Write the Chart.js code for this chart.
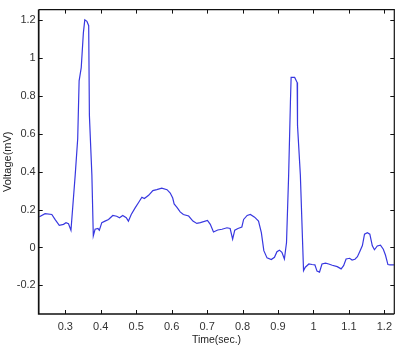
<!DOCTYPE html>
<html><head><meta charset="utf-8">
<script src="https://cdn.jsdelivr.net/npm/chart.js@4/dist/chart.umd.min.js"></script>
<style>html,body{margin:0;padding:0;background:#fff}#wrap{width:399px;height:348px}</style>
</head><body><div id="wrap"><canvas id="c" width="399" height="348"></canvas></div>
<script>
const times = [0.227,0.243,0.262,0.271,0.283,0.295,0.302,0.309,0.316,0.328,0.335,0.339,0.345,0.351,0.355,0.361,0.366,0.368,0.375,0.379,0.384,0.392,0.396,0.403,0.412,0.422,0.434,0.445,0.453,0.462,0.472,0.478,0.486,0.497,0.509,0.516,0.523,0.535,0.547,0.558,0.572,0.587,0.596,0.603,0.607,0.615,0.624,0.633,0.648,0.660,0.671,0.681,0.701,0.709,0.718,0.730,0.742,0.756,0.765,0.772,0.778,0.787,0.798,0.803,0.813,0.822,0.834,0.845,0.853,0.860,0.869,0.881,0.890,0.897,0.904,0.911,0.918,0.924,0.930,0.935,0.937,0.947,0.954,0.955,0.963,0.972,0.977,0.987,0.996,1.004,1.010,1.017,1.024,1.034,1.043,1.053,1.067,1.078,1.085,1.092,1.102,1.109,1.117,1.124,1.131,1.138,1.144,1.152,1.159,1.166,1.172,1.180,1.189,1.197,1.203,1.210,1.216,1.227];
const voltages = [0.162,0.178,0.174,0.148,0.117,0.122,0.131,0.125,0.091,0.383,0.574,0.879,0.949,1.132,1.201,1.193,1.170,0.697,0.383,0.061,0.096,0.100,0.091,0.131,0.139,0.148,0.169,0.165,0.157,0.169,0.157,0.139,0.174,0.209,0.244,0.265,0.258,0.275,0.300,0.305,0.313,0.305,0.287,0.261,0.230,0.212,0.188,0.174,0.166,0.139,0.127,0.131,0.143,0.122,0.082,0.092,0.096,0.104,0.100,0.044,0.091,0.100,0.108,0.148,0.169,0.174,0.160,0.139,0.078,-0.017,-0.055,-0.064,-0.052,-0.022,-0.014,-0.026,-0.061,0.026,0.383,0.766,0.897,0.897,0.870,0.644,0.383,-0.122,-0.104,-0.087,-0.090,-0.092,-0.125,-0.130,-0.087,-0.083,-0.087,-0.094,-0.101,-0.113,-0.096,-0.061,-0.057,-0.066,-0.062,-0.049,-0.020,0.010,0.070,0.078,0.070,0.009,-0.012,0.008,0.012,-0.009,-0.040,-0.090,-0.092,-0.092];
const xTicks = [0.3,0.4,0.5,0.6,0.7,0.8,0.9,1.0,1.1,1.2];
const yTicks = [-0.2,0,0.2,0.4,0.6,0.8,1.0,1.2];
const xRange = [0.225, 1.228];
const yRange = [-0.351, 1.255];

const points = times.map((t,i)=>({x:t,y:voltages[i]}));

const framePlugin = {
  id:'frame',
  afterDatasetsDraw(chart){
    const {ctx, chartArea:a, scales:{x,y}} = chart;
    ctx.save();
    ctx.strokeStyle='#111';
    ctx.lineWidth=1;
    const tl=4;
    ctx.beginPath();
    xTicks.forEach(v=>{
      const px=Math.round(x.getPixelForValue(v))+0.5;
      ctx.moveTo(px,a.bottom); ctx.lineTo(px,a.bottom-tl);
      ctx.moveTo(px,a.top); ctx.lineTo(px,a.top+tl);
    });
    yTicks.forEach(v=>{
      const py=Math.round(y.getPixelForValue(v))+0.5;
      ctx.moveTo(a.left,py); ctx.lineTo(a.left+tl,py);
      ctx.moveTo(a.right,py); ctx.lineTo(a.right-tl,py);
    });
    ctx.stroke();
    ctx.lineWidth=1.2;
    ctx.beginPath();
    ctx.moveTo(a.left,a.top); ctx.lineTo(a.right,a.top); ctx.lineTo(a.right,a.bottom);
    ctx.stroke();
    ctx.lineWidth=1.7;
    ctx.beginPath();
    ctx.moveTo(a.left,a.top); ctx.lineTo(a.left,a.bottom); ctx.lineTo(a.right,a.bottom);
    ctx.stroke();
    ctx.restore();
  }
};

const fmt = v => { const r=Math.round(v*10)/10; return String(r); };

new Chart(document.getElementById('c'),{
  type:'line',
  data:{datasets:[{data:points,borderColor:'#3838e0',borderWidth:1.2,pointRadius:0,tension:0,fill:false}]},
  options:{
    responsive:false,animation:false,
    layout:{padding:{left:0,right:4.7,top:6.3,bottom:0}},
    plugins:{legend:{display:false},tooltip:{enabled:false}},
    scales:{
      x:{type:'linear',min:xRange[0],max:xRange[1],
        afterBuildTicks(s){s.ticks=xTicks.map(v=>({value:v}));},
        afterFit(s){s.height=34;},
        grid:{display:false,drawTicks:false},border:{display:false},
        ticks:{padding:6,color:'#333',font:{family:'Liberation Sans, Arial',size:11},callback:fmt,maxRotation:0,autoSkip:false},
        title:{display:true,text:'Time(sec.)',color:'#222',font:{family:'Liberation Sans, Arial',size:10.5},padding:{top:0,bottom:1.5}}
      },
      y:{type:'linear',min:yRange[0],max:yRange[1],
        afterBuildTicks(s){s.ticks=yTicks.map(v=>({value:v}));},
        afterFit(s){s.width=38.7;},
        grid:{display:false,drawTicks:false},border:{display:false},
        ticks:{padding:3,color:'#333',font:{family:'Liberation Sans, Arial',size:11},callback:fmt,autoSkip:false},
        title:{display:true,text:'Voltage(mV)',color:'#222',font:{family:'Liberation Sans, Arial',size:11},padding:{top:1.5,bottom:0}}
      }
    }
  },
  plugins:[framePlugin]
});
</script>
</body></html>
